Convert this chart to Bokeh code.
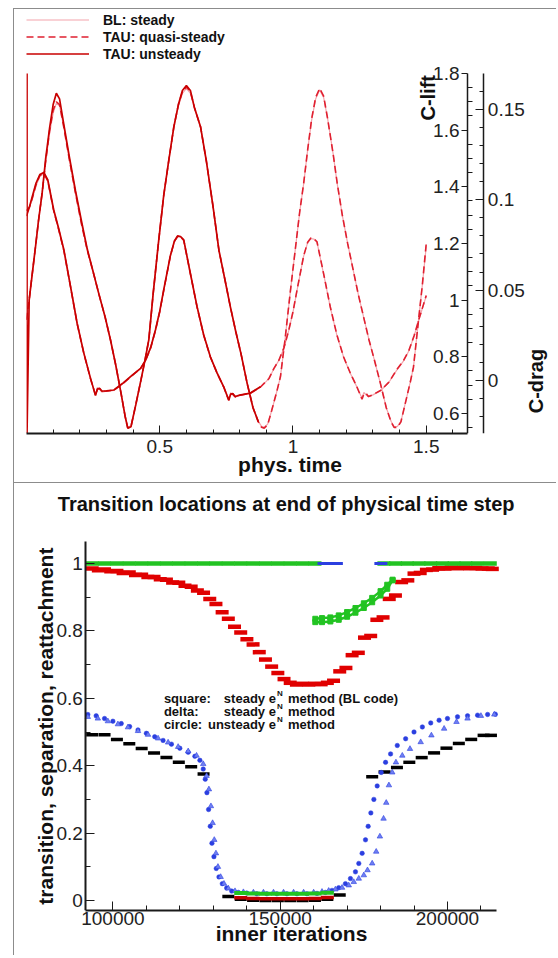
from math import pi
from bokeh.plotting import figure
from bokeh.core.properties import value
from bokeh.models import (Range1d, LinearAxis, FixedTicker, PrintfTickFormatter,
                          Legend, LegendItem, Label)
from bokeh.layouts import column
from bokeh.embed import file_html
from bokeh.resources import INLINE

FONT = "Liberation Sans"

# ======================= TOP PANEL DATA =======================
t_lift = [0.000, 0.010, 0.020, 0.034, 0.045, 0.059, 0.072, 0.087,
          0.100, 0.112, 0.124, 0.140, 0.160, 0.184, 0.206, 0.228,
          0.250, 0.272, 0.295, 0.315, 0.335, 0.355, 0.370, 0.380,
          0.392, 0.410, 0.430, 0.445, 0.459, 0.475, 0.496, 0.515,
          0.535, 0.553, 0.570, 0.585, 0.600, 0.615, 0.630, 0.653,
          0.675, 0.700, 0.722, 0.745, 0.765, 0.785, 0.805, 0.828,
          0.850, 0.870, 0.882, 0.892, 0.905, 0.920, 0.940, 0.953,
          0.970, 0.990, 1.010, 1.025, 1.040, 1.055, 1.070, 1.085,
          1.100, 1.115, 1.130, 1.150, 1.166, 1.185, 1.205, 1.225,
          1.245, 1.265, 1.285, 1.305, 1.328, 1.350, 1.368, 1.380,
          1.392, 1.405, 1.420, 1.440, 1.452, 1.470, 1.485, 1.500]

lift_qs = [0.93, 1.00, 1.08, 1.19, 1.28, 1.38, 1.49, 1.60,
           1.67, 1.70, 1.69, 1.61, 1.50, 1.377, 1.27, 1.176,
           1.10, 1.02, 0.94, 0.86, 0.77, 0.67, 0.59, 0.548,
           0.553, 0.63, 0.72, 0.79, 0.86, 1.02, 1.21, 1.37,
           1.50, 1.612, 1.69, 1.735, 1.753, 1.735, 1.68, 1.612,
           1.49, 1.33, 1.176, 1.07, 0.976, 0.89, 0.81, 0.706,
           0.62, 0.57, 0.551, 0.548, 0.56, 0.61, 0.68, 0.73,
           0.86, 1.03, 1.19, 1.31, 1.412, 1.53, 1.64, 1.715,
           1.747, 1.72, 1.64, 1.52, 1.412, 1.30, 1.20, 1.11,
           1.02, 0.94, 0.86, 0.79, 0.706, 0.62, 0.57, 0.55,
           0.551, 0.57, 0.63, 0.71, 0.763, 0.92, 1.05, 1.20]

lift_bl = [0.93, 1.00, 1.08, 1.19, 1.28, 1.38, 1.49, 1.59,
           1.66, 1.695, 1.685, 1.61, 1.50, 1.375, 1.27, 1.175,
           1.10, 1.02, 0.94, 0.86, 0.77, 0.67, 0.59, 0.552,
           0.556, 0.63, 0.72, 0.79, 0.86, 1.02, 1.21, 1.37,
           1.50, 1.61, 1.685, 1.73, 1.747, 1.73, 1.68, 1.61,
           1.49, 1.33, 1.175, 1.07, 0.975, 0.89, 0.81, 0.705,
           0.62, 0.572, 0.554, 0.551, 0.562, 0.61, 0.68, 0.73,
           0.86, 1.03, 1.19, 1.31, 1.41, 1.53, 1.635, 1.71,
           1.742, 1.715, 1.64, 1.52, 1.41, 1.30, 1.20, 1.11,
           1.02, 0.94, 0.86, 0.79, 0.705, 0.62, 0.572, 0.553,
           0.554, 0.572, 0.63, 0.71, 0.762, 0.92, 1.05, 1.19]

# unsteady run: start-up spike, then the first ~0.87 time units
t_lift_us = [0.002, 0.002] + t_lift[1:50]
lift_us = [1.80, 0.53,
           1.00, 1.08, 1.19, 1.28, 1.38, 1.50, 1.61,
           1.69, 1.73, 1.71, 1.62, 1.51, 1.385, 1.28, 1.18,
           1.10, 1.02, 0.94, 0.86, 0.77, 0.67, 0.59, 0.548,
           0.553, 0.63, 0.72, 0.79, 0.86, 1.02, 1.21, 1.37,
           1.50, 1.612, 1.69, 1.74, 1.757, 1.74, 1.68, 1.612,
           1.49, 1.33, 1.176, 1.07, 0.976, 0.89, 0.81, 0.706,
           0.62, 0.57]

t_drag = [0.000, 0.011, 0.022, 0.035, 0.050, 0.065, 0.080, 0.102,
          0.120, 0.140, 0.165, 0.190, 0.215, 0.240, 0.259, 0.266,
          0.274, 0.283, 0.300, 0.328, 0.360, 0.390, 0.428, 0.447,
          0.466, 0.484, 0.500, 0.515, 0.540, 0.555, 0.567, 0.578,
          0.590, 0.615, 0.640, 0.665, 0.690, 0.715, 0.740, 0.759,
          0.766, 0.774, 0.783, 0.800, 0.840, 0.878, 0.910, 0.928,
          0.947, 0.966, 0.984, 1.000, 1.015, 1.040, 1.055, 1.067,
          1.078, 1.090, 1.115, 1.140, 1.165, 1.190, 1.215, 1.240,
          1.259, 1.266, 1.274, 1.283, 1.300, 1.330, 1.360, 1.390,
          1.415, 1.435, 1.455, 1.475, 1.500]

drag_qs = [0.094, 0.096, 0.101, 0.108, 0.1135, 0.1149, 0.1105, 0.094,
           0.084, 0.072, 0.052, 0.0314, 0.015, 0.001, -0.0083, -0.0050,
           -0.0045, -0.0062, -0.0060, -0.0055, -0.002, 0.0018, 0.0065, 0.0111,
           0.018, 0.0277, 0.038, 0.0499, 0.069, 0.0770, 0.0798, 0.0795,
           0.0776, 0.059, 0.0406, 0.025, 0.0129, 0.004, -0.0037, -0.0111,
           -0.0078, -0.0075, -0.0092, -0.0083, -0.0072, -0.0037, 0.001, 0.0065,
           0.0111, 0.018, 0.0277, 0.038, 0.0499, 0.069, 0.0765, 0.0788,
           0.0785, 0.0768, 0.059, 0.0406, 0.025, 0.0129, 0.004, -0.0037,
           -0.0105, -0.0075, -0.0072, -0.0090, -0.0080, -0.0055, -0.001, 0.006,
           0.011, 0.0166, 0.025, 0.035, 0.047]

drag_bl = [0.094, 0.0958, 0.1005, 0.1075, 0.113, 0.1145, 0.110, 0.0938,
           0.0838, 0.0718, 0.0518, 0.0312, 0.0148, 0.0008, -0.0078, -0.0040,
           -0.0052, -0.0066, -0.0061, -0.0056, -0.0021, 0.0017, 0.0064, 0.011,
           0.0178, 0.0275, 0.0378, 0.0497, 0.0688, 0.0768, 0.0795, 0.0793,
           0.0774, 0.0588, 0.0404, 0.0248, 0.0128, 0.0039, -0.0038, -0.0106,
           -0.0068, -0.0082, -0.0094, -0.0084, -0.0073, -0.0038, 0.0009, 0.0064,
           0.011, 0.0178, 0.0275, 0.0378, 0.0497, 0.0688, 0.0763, 0.0785,
           0.0783, 0.0766, 0.0588, 0.0404, 0.0248, 0.0128, 0.0039, -0.0038,
           -0.0100, -0.0068, -0.0080, -0.0092, -0.0081, -0.0056, -0.0011, 0.0058,
           0.0108, 0.0164, 0.0248, 0.0348, 0.0468]

t_drag_us = t_drag[0:46]
drag_us = [0.091, 0.096, 0.102, 0.109, 0.114, 0.1152, 0.111, 0.0945,
           0.0845, 0.0725, 0.0522, 0.0316, 0.0152, 0.0012, -0.0085, -0.0048,
           -0.0044, -0.006, -0.0058, -0.0054, -0.0018, 0.002, 0.0066, 0.0112,
           0.0182, 0.028, 0.0383, 0.0502, 0.0692, 0.0772, 0.080, 0.0797,
           0.0778, 0.0592, 0.0408, 0.0251, 0.013, 0.0041, -0.0036, -0.011,
           -0.0077, -0.0074, -0.009, -0.0082, -0.0071, -0.0036]

time_ticks = [0.5, 1.0, 1.5]
time_minor = [0.1, 0.2, 0.3, 0.4, 0.6, 0.7, 0.8, 0.9, 1.1, 1.2, 1.3, 1.4, 1.6]
lift_ticks = [0.6, 0.8, 1.0, 1.2, 1.4, 1.6, 1.8]
lift_tick_labels = ["0.6", "0.8", "1", "1.2", "1.4", "1.6", "1.8"]
lift_minor = [0.55, 0.65, 0.7, 0.75, 0.85, 0.9, 0.95, 1.05, 1.1, 1.15, 1.25, 1.3,
              1.35, 1.45, 1.5, 1.55, 1.65, 1.7, 1.75]
drag_ticks = [0.0, 0.05, 0.1, 0.15]
drag_tick_labels = ["0", "0.05", "0.1", "0.15"]
drag_minor = [-0.02, -0.01, 0.01, 0.02, 0.03, 0.04, 0.06, 0.07, 0.08, 0.09,
              0.11, 0.12, 0.13, 0.14, 0.16]

# ======================= BOTTOM PANEL DATA =======================
red_bl_x = [93800, 97500, 101200, 104900, 108600, 112300, 116000, 119700, 123400, 127100,
            130800, 134500, 138200, 141900, 145600, 149300, 153000, 156700, 160400, 164100,
            167800, 171500, 175200, 178900, 182600, 186300, 190000, 193700, 197400, 201100,
            204800, 208500, 212200]
red_bl_y = [0.985, 0.982, 0.978, 0.973, 0.967, 0.960, 0.952, 0.943, 0.931, 0.913,
            0.880, 0.836, 0.795, 0.760, 0.715, 0.675, 0.646, 0.643, 0.643, 0.646,
            0.680, 0.728, 0.780, 0.833, 0.895, 0.945, 0.970, 0.981, 0.986, 0.988,
            0.988, 0.987, 0.985]
red_tau_x = [95650, 99350, 103050, 106750, 110450, 114150, 117850, 121550, 125250, 128950,
             132650, 136350, 140050, 143750, 147450, 151150, 154850, 158550, 162250, 165950,
             169650, 173350, 177050, 180750, 184450, 188150, 191850, 195550, 199250, 202950,
             206650, 210350, 213400]
red_tau_y = [0.980, 0.977, 0.972, 0.966, 0.960, 0.953, 0.944, 0.934, 0.920, 0.895,
             0.855, 0.812, 0.775, 0.737, 0.694, 0.657, 0.641, 0.641, 0.642, 0.652,
             0.690, 0.735, 0.785, 0.840, 0.905, 0.950, 0.972, 0.982, 0.985, 0.986,
             0.986, 0.985, 0.984]
red_low_x = [138200, 141900, 145600, 149300, 153000, 156700, 160400, 164100]
red_low_y = [0.008, 0.006, 0.005, 0.005, 0.005, 0.005, 0.006, 0.009]

green_top_x = [93800, 97500, 101200, 104900, 108600, 112300, 116000, 119700, 123400, 127100,
               130800, 134500, 138200, 141900, 145600, 149300, 153000, 156700, 160400,
               181000, 184500, 188000, 191500, 195000, 198500, 202000, 205500, 209000, 212800]
green_top_y = [1.0, 1.0, 1.0, 1.0, 1.0, 1.0, 1.0, 1.0, 1.0, 1.0,
               1.0, 1.0, 1.0, 1.0, 1.0, 1.0, 1.0, 1.0, 1.0,
               1.0, 1.0, 1.0, 1.0, 1.0, 1.0, 1.0, 1.0, 1.0, 1.0]
blue_top_x = [163100, 166800, 180100]
blue_top_y = [1.0, 1.0, 1.0]

green_up_x = [160500, 162500, 165000, 167500, 170000, 172500, 175000, 177500, 180000, 182000, 183600]
green_up_y = [0.836, 0.838, 0.840, 0.846, 0.856, 0.868, 0.882, 0.898, 0.918, 0.937, 0.952]
green_lo_x = [160500, 162500, 165000, 167500, 170000, 172500, 175000, 177500, 180000, 182000, 183600]
green_lo_y = [0.826, 0.826, 0.828, 0.833, 0.842, 0.854, 0.868, 0.885, 0.905, 0.925, 0.950]
green_low_x = [138200, 141900, 145600, 149300, 153000, 156700, 160400, 164100]
green_low_y = [0.022, 0.021, 0.020, 0.020, 0.020, 0.020, 0.021, 0.023]

black_x = [93800, 97500, 101200, 104900, 108600, 112300, 116000, 119700, 123400, 127100,
           134500, 138200, 141900, 145600, 149300, 153000, 156700, 160400, 164100, 167800,
           177500, 181200, 184900, 188600, 192300, 196000, 199700, 203400, 207100, 210800, 213000]
black_y = [0.492, 0.492, 0.478, 0.465, 0.451, 0.438, 0.424, 0.410, 0.397, 0.375,
           0.012, 0.004, 0.001, 0.0, 0.0, 0.0, 0.0, 0.001, 0.004, 0.016,
           0.367, 0.381, 0.395, 0.410, 0.424, 0.438, 0.452, 0.466, 0.478, 0.490, 0.490]

blue_c_x = [92500, 95000, 97500, 100000, 102500, 105000, 107500, 110000, 112500, 115000,
            117500, 120000, 122500, 124500, 126000, 127000, 127600, 128100, 128600, 129100,
            129600, 130200, 130900, 131700, 132700, 134000, 135500, 137500, 140000, 143000,
            146000, 149000, 152000, 155000, 158000, 161000, 163500, 165500, 167500, 169500,
            171000, 172500, 173500, 174500, 175500, 176300, 177100, 178000, 179000, 180200,
            181500, 183000, 185000, 187500, 190000, 192500, 195000, 197500, 200000, 203000,
            206000, 209000, 212000, 214300]
blue_c_y = [0.552, 0.548, 0.540, 0.532, 0.525, 0.516, 0.506, 0.496, 0.486, 0.475,
            0.464, 0.452, 0.440, 0.428, 0.416, 0.390, 0.360, 0.320, 0.270, 0.220,
            0.170, 0.130, 0.095, 0.070, 0.050, 0.037, 0.028, 0.024, 0.022, 0.020,
            0.020, 0.020, 0.020, 0.020, 0.020, 0.021, 0.024, 0.030, 0.038, 0.050,
            0.065, 0.085, 0.110, 0.140, 0.180, 0.220, 0.260, 0.300, 0.340, 0.380,
            0.410, 0.435, 0.460, 0.480, 0.500, 0.515, 0.527, 0.535, 0.540, 0.545,
            0.548, 0.550, 0.552, 0.553]
blue_t_x = [92500, 95500, 98500, 101500, 104500, 107500, 110500, 113500, 116500, 119500,
            122500, 125000, 127000, 128000, 128700, 129300, 129800, 130300, 130800, 131400,
            132200, 133200, 134500, 136500, 139000, 142000, 145000, 148000, 151000, 154000,
            157000, 160000, 162500, 164500, 166500, 168500, 170500, 172000, 173500, 175000,
            176100, 177500, 178700, 179800, 180900, 181700, 182500, 183500, 184600, 186500,
            188800, 192000, 195200, 199000, 202700, 206000, 210000, 214000]
blue_t_y = [0.545, 0.540, 0.532, 0.523, 0.514, 0.503, 0.492, 0.481, 0.469, 0.456,
            0.443, 0.430, 0.405, 0.370, 0.330, 0.280, 0.230, 0.180, 0.140, 0.100,
            0.070, 0.050, 0.036, 0.028, 0.025, 0.024, 0.024, 0.024, 0.024, 0.024,
            0.024, 0.024, 0.026, 0.029, 0.033, 0.038, 0.045, 0.055, 0.065, 0.075,
            0.090, 0.110, 0.145, 0.190, 0.243, 0.290, 0.342, 0.380, 0.410, 0.430,
            0.450, 0.470, 0.490, 0.510, 0.530, 0.540, 0.548, 0.552]

iter_ticks = [100000, 150000, 200000]
iter_minor = [110000, 120000, 130000, 140000, 160000, 170000, 180000, 190000, 210000]
loc_ticks = [0.0, 0.2, 0.4, 0.6, 0.8, 1.0]
loc_tick_labels = ["0", "0.2", "0.4", "0.6", "0.8", "1"]
loc_minor = [0.1, 0.3, 0.5, 0.7, 0.9]

title_text = "Transition locations at end of physical time step"
ylabel_text = "transition, separation, reattachment"
ann_col1 = ["square:", "delta:", "circle:"]
ann_col2 = ["steady e", "steady e", "unsteady e"]
ann_col3 = ["method (BL code)", "method", "method"]
ann_y = [0.600, 0.561, 0.521]

# ======================= STYLE =======================
RED_US = "#c80000"
RED_QS = "#e02030"
RED_BL = "#f4a3ab"
RED = "#e00000"
GREEN = "#22c322"
BLUE = "#2b3fe0"
AX = "#1a1a1a"
frame_css = "1px solid #8c8c8c"


def style_axis(ax, size="19px"):
    ax.axis_line_color = AX
    ax.major_tick_line_color = AX
    ax.minor_tick_line_color = AX
    ax.major_label_text_font = FONT
    ax.major_label_text_font_size = size
    ax.major_label_text_color = "#222222"
    ax.axis_label_text_font = FONT
    ax.axis_label_text_font_style = "bold"
    ax.axis_label_text_color = "#111111"


# ======================= TOP FIGURE =======================
T_LIFT = 1.6548     # x position of the C-lift axis
T_DRAG = 1.716      # x position of the C-drag axis
p1 = figure(width=543, height=475, x_range=Range1d(0, 1.9775), y_range=Range1d(0.529, 2.0186),
            output_backend="svg", toolbar_location=None, y_axis_location=None,
            min_border_left=12, min_border_right=4, min_border_top=2, min_border_bottom=51,
            outline_line_color=None, frame_align=False,
            styles={"margin-left": "13px", "margin-top": "8px",
                    "border-top": frame_css, "border-left": frame_css,
                    "border-bottom": frame_css})
p1.grid.visible = False
p1.extra_y_ranges = {"drag": Range1d(-0.0295, 0.2044)}

xa = p1.xaxis[0]
xa.ticker = FixedTicker(ticks=time_ticks, minor_ticks=time_minor)
xa.formatter = PrintfTickFormatter(format="%g")
xa.bounds = (0, T_LIFT)
xa.axis_label = "phys. time"
style_axis(xa)
xa.axis_label_text_font_size = "21px"
xa.axis_line_width = 2
xa.major_tick_in, xa.major_tick_out = 8, 0
xa.minor_tick_in, xa.minor_tick_out = 4, 0
xa.major_label_standoff = 6
xa.axis_label_standoff = -3

# C-lift axis: inside the frame, labels to its left
lift_axis = LinearAxis(fixed_location=T_LIFT, bounds=(0.529, 1.8),
                       ticker=FixedTicker(ticks=lift_ticks, minor_ticks=lift_minor),
                       major_label_overrides={t: "" for t in lift_ticks})
style_axis(lift_axis)
lift_axis.axis_line_width = 1.5
lift_axis.major_tick_in, lift_axis.major_tick_out = 0, 6
lift_axis.minor_tick_in, lift_axis.minor_tick_out = 5, 0
lift_axis.major_label_standoff = 0
p1.add_layout(lift_axis, "left")
p1.text(x=[T_LIFT] * len(lift_ticks), y=lift_ticks, text=lift_tick_labels,
        x_offset=-8, text_align="right", text_baseline="middle",
        text_font=value(FONT), text_font_size="19px", text_color="#222222")

# C-drag axis: also inside the frame, labels to its right
drag_axis = LinearAxis(y_range_name="drag", fixed_location=T_DRAG, bounds=(-0.0295, 0.17),
                       ticker=FixedTicker(ticks=drag_ticks, minor_ticks=drag_minor),
                       major_label_overrides={t: "" for t in drag_ticks})
style_axis(drag_axis)
drag_axis.axis_line_width = 1.5
drag_axis.major_tick_in, drag_axis.major_tick_out = 8, 0
drag_axis.minor_tick_in, drag_axis.minor_tick_out = 4, 0
drag_axis.major_label_standoff = 0
p1.add_layout(drag_axis, "right")
p1.text(x=[T_DRAG] * len(drag_ticks), y=drag_ticks, text=drag_tick_labels,
        y_range_name="drag", x_offset=4, text_align="left", text_baseline="middle",
        text_font=value(FONT), text_font_size="19px", text_color="#222222")

r_bl = p1.line(t_lift, lift_bl, line_color=RED_BL, line_width=1.2)
p1.line(t_drag, drag_bl, line_color=RED_BL, line_width=1.2, y_range_name="drag")
r_qs = p1.line(t_lift, lift_qs, line_color=RED_QS, line_width=1.6, line_dash="7 4")
p1.line(t_drag, drag_qs, line_color=RED_QS, line_width=1.6, line_dash="7 4", y_range_name="drag")
r_us = p1.line(t_lift_us, lift_us, line_color=RED_US, line_width=1.7)
p1.line(t_drag_us, drag_us, line_color=RED_US, line_width=1.7, y_range_name="drag")

legend = Legend(items=[LegendItem(label="BL: steady", renderers=[r_bl]),
                       LegendItem(label="TAU: quasi-steady", renderers=[r_qs]),
                       LegendItem(label="TAU: unsteady", renderers=[r_us])],
                location="top_left", margin=0, padding=5, spacing=0,
                glyph_width=63, glyph_height=17, label_height=17, label_standoff=14,
                label_text_font=FONT, label_text_font_size="14px",
                label_text_font_style="bold", label_text_color="#111111",
                border_line_color=None, background_fill_alpha=0)
p1.add_layout(legend)

p1.add_layout(Label(x=1.505, y=1.714, text="C-lift", angle=pi / 2,
                    text_align="center", text_baseline="middle",
                    text_font=FONT, text_font_size="20px", text_font_style="bold",
                    text_color="#111111"))
p1.add_layout(Label(x=1.91, y=0.714, text="C-drag", angle=pi / 2,
                    text_align="center", text_baseline="middle",
                    text_font=FONT, text_font_size="20px", text_font_style="bold",
                    text_color="#111111"))

# ======================= BOTTOM FIGURE =======================
IT_START, IT_END = 91930, 214780     # extent of the drawn iteration axis
p2 = figure(width=543, height=472, x_range=Range1d(74175, 232592), y_range=Range1d(-0.0297, 1.2315),
            output_backend="svg", toolbar_location=None, y_axis_location=None,
            min_border_left=12, min_border_right=1, min_border_top=2, min_border_bottom=45,
            outline_line_color=None, frame_align=False,
            styles={"margin-left": "13px", "border-left": frame_css})
p2.grid.visible = False

p2.add_layout(Label(x=151800, y=1.178, text=title_text, text_align="center",
                    text_baseline="middle", text_font=FONT, text_font_size="20px",
                    text_font_style="bold", text_color="#111111"))

bx = p2.xaxis[0]
bx.ticker = FixedTicker(ticks=iter_ticks, minor_ticks=iter_minor)
bx.formatter = PrintfTickFormatter(format="%d")
bx.bounds = (IT_START, IT_END)
bx.axis_label = "inner iterations"
style_axis(bx)
bx.axis_label_text_font_size = "21px"
bx.axis_line_width = 2
bx.major_tick_in, bx.major_tick_out = 9, 0
bx.minor_tick_in, bx.minor_tick_out = 5, 0
bx.major_label_standoff = 1
bx.axis_label_standoff = -6

by = LinearAxis(fixed_location=IT_START, bounds=(-0.0297, 1.065),
                ticker=FixedTicker(ticks=loc_ticks, minor_ticks=loc_minor),
                major_label_overrides={t: "" for t in loc_ticks})
style_axis(by)
by.axis_line_width = 2
by.major_tick_in, by.major_tick_out = 9, 0
by.minor_tick_in, by.minor_tick_out = 5, 0
by.major_label_standoff = 0
p2.add_layout(by, "left")
p2.text(x=[IT_START] * len(loc_ticks), y=loc_ticks, text=loc_tick_labels,
        x_offset=-3, text_align="right", text_baseline="middle",
        text_font=value(FONT), text_font_size="19px", text_color="#222222")
p2.add_layout(Label(x=79855, y=0.5175, text=ylabel_text, angle=pi / 2,
                    text_align="center", text_baseline="middle",
                    text_font=FONT, text_font_size="21px", text_font_style="bold",
                    text_color="#111111"))

p2.scatter(black_x, black_y, marker="dash", size=12, line_width=3.5, line_color="#000000")
p2.scatter(blue_c_x, blue_c_y, marker="circle", size=4.5, fill_color=BLUE, line_color=BLUE, line_width=0.5)
p2.scatter(blue_t_x, blue_t_y, marker="triangle", size=5.5, fill_color="#6f7ff2",
           line_color=BLUE, line_width=0.6)
p2.scatter(red_bl_x, red_bl_y, marker="dash", size=13, line_width=4.5, line_color=RED)
p2.scatter(red_tau_x, red_tau_y, marker="dash", size=13, line_width=4.5, line_color=RED)
p2.scatter(red_low_x, red_low_y, marker="dash", size=13, line_width=3.5, line_color="#c00000")
p2.scatter(green_top_x, green_top_y, marker="dash", size=13, line_width=4.5, line_color=GREEN)
p2.scatter(blue_top_x, blue_top_y, marker="dash", size=13, line_width=3, line_color=BLUE)
p2.line(green_up_x, green_up_y, line_color=GREEN, line_width=2.5)
p2.line(green_lo_x, green_lo_y, line_color=GREEN, line_width=2.5)
p2.scatter(green_up_x, green_up_y, marker="square", size=5, fill_color=GREEN, line_color=GREEN)
p2.scatter(green_lo_x, green_lo_y, marker="square", size=5, fill_color=GREEN, line_color=GREEN)
p2.scatter(green_low_x, green_low_y, marker="dash", size=13, line_width=4, line_color=GREEN)

x_col1, x_col2, x_sup, x_col3 = 115240, 148720, 149020, 152310
for i in range(3):
    common = dict(text_font=FONT, text_font_size="13px", text_font_style="bold",
                  text_color="#111111", text_baseline="middle")
    p2.add_layout(Label(x=x_col1, y=ann_y[i], text=ann_col1[i], text_align="left", **common))
    p2.add_layout(Label(x=x_col2, y=ann_y[i], text=ann_col2[i], text_align="right", **common))
    p2.add_layout(Label(x=x_sup, y=ann_y[i], y_offset=5, text="N", text_align="left",
                        text_font=FONT, text_font_size="8px", text_font_style="bold",
                        text_color="#111111", text_baseline="middle"))
    p2.add_layout(Label(x=x_col3, y=ann_y[i], text=ann_col3[i], text_align="left", **common))

layout = column(p1, p2)
open("out.html", "w").write(file_html(layout, INLINE))
